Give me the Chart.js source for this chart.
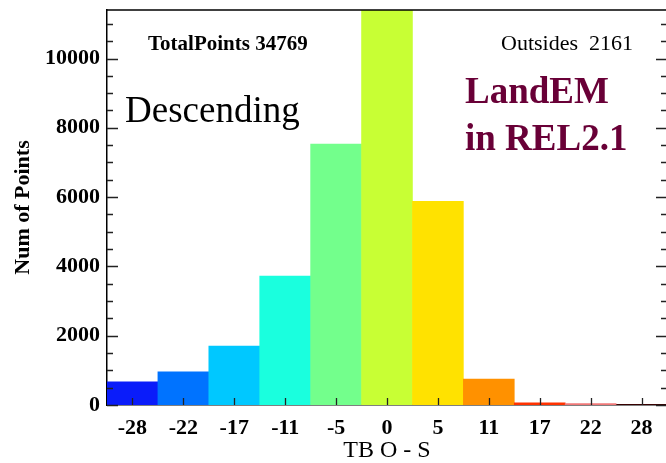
<!DOCTYPE html>
<html>
<head>
<meta charset="utf-8">
<script src="https://cdn.jsdelivr.net/npm/chart.js@4"></script>
<style>
  html, body { margin: 0; padding: 0; background: #fff; overflow: hidden; }
  canvas { display: block; }
</style>
</head>
<body>
<canvas id="myChart" width="668" height="463"></canvas>
<script>
// histogram bins of TB O - S
let bins = ["-28", "-22", "-17", "-11", "-5", "0", "5", "11", "17", "22", "28"];
let counts = [670, 955, 1700, 3720, 7530, 11400, 5880, 750, 60, 40, 0];
let barColors = [
  "rgb(10,28,250)", "rgb(0,115,255)", "rgb(0,200,255)", "rgb(26,255,222)",
  "rgb(115,255,140)", "rgb(200,255,52)", "rgb(255,226,0)", "rgb(255,145,0)",
  "rgb(255,50,0)", "rgb(240,120,120)", "rgb(220,0,0)"
];
let yTicks = [0, 2000, 4000, 6000, 8000, 10000];
let totalPoints = 34769;
let outsides = 2161;

let serif = "'Liberation Serif', 'DejaVu Serif', serif";
let yMax = Math.max(...counts);

// inward tick marks, top frame and the text annotations
let frame = {
  id: "frame",
  afterDatasetsDraw(chart) {
    let c = chart.ctx;
    let a = chart.chartArea;
    let x = chart.scales.x, y = chart.scales.y;
    c.save();
    c.strokeStyle = "#222";
    c.lineWidth = 1.3;
    c.beginPath();
    for (let v = 0; v <= yMax; v += 500) {
      let py = Math.round(y.getPixelForValue(v)) + 0.5;
      let len = v % 2000 === 0 ? 11 : 6;
      c.moveTo(a.left, py); c.lineTo(a.left + len, py);
      c.moveTo(a.right, py); c.lineTo(a.right - len, py);
    }
    bins.forEach((b, i) => {
      let px = Math.round(x.getPixelForValue(i)) + 0.5;
      c.moveTo(px, a.bottom); c.lineTo(px, a.bottom - 7);
    });
    c.stroke();
    c.strokeStyle = "#000";
    c.lineWidth = 1.5;
    c.beginPath();
    c.moveTo(a.left, a.top); c.lineTo(a.right, a.top);
    c.stroke();

    c.fillStyle = "#000";
    c.textBaseline = "alphabetic";
    c.font = "bold 21px " + serif;
    c.fillText("TotalPoints " + totalPoints, 148, 50);
    c.font = "22px " + serif;
    c.fillText("Outsides  " + outsides, 501, 50);
    c.font = "37px " + serif;
    c.fillText("Descending", 125, 122);
    c.fillStyle = "rgb(105,0,55)";
    c.font = "bold 37px " + serif;
    c.fillText("LandEM", 465, 103);
    c.fillText("in REL2.1", 465, 150);
    c.restore();
  }
};

let ctx = document.getElementById("myChart");

let graphData = {
  type: "bar",
  data: {
    labels: bins,
    datasets: [
      {
        data: counts,
        backgroundColor: barColors,
        borderWidth: 0,
        barPercentage: 1,
        categoryPercentage: 1,
      },
    ],
  },
  options: {
    responsive: false,
    animation: false,
    devicePixelRatio: 1,
    layout: { padding: { top: 10, right: 1, left: 0, bottom: 0 } },
    plugins: { legend: { display: false }, tooltip: { enabled: false } },
    scales: {
      x: {
        grid: { display: false, drawTicks: false },
        border: { display: true, color: "#000", width: 1.5 },
        ticks: {
          color: "#000",
          padding: 10,
          maxRotation: 0,
          font: { family: serif, size: 22, weight: "bold" },
        },
        title: {
          display: true,
          text: "TB O - S",
          color: "#000",
          padding: { top: 0, bottom: 0 },
          font: { family: serif, size: 24, lineHeight: 1 },
        },
        afterFit(scale) {
          scale.height = 58;
          scale.paddingLeft = 0;
          scale.paddingRight = 0;
        },
      },
      y: {
        min: 0,
        max: yMax,
        grid: { display: false, drawTicks: false },
        border: { display: true, color: "#000", width: 1.5 },
        afterBuildTicks(scale) {
          scale.ticks = yTicks.map((v) => ({ value: v }));
        },
        ticks: {
          color: "#000",
          padding: 7,
          font: { family: serif, size: 22, weight: "bold" },
          callback: (v) => String(v),
        },
        title: {
          display: true,
          text: "Num of Points",
          color: "#000",
          padding: { top: 10, bottom: 0 },
          font: { family: serif, size: 22, weight: "bold" },
        },
        afterFit(scale) {
          scale.width = 107;
          scale.paddingTop = 0;
          scale.paddingBottom = 0;
        },
      },
    },
  },
  plugins: [frame],
};

let myChart = new Chart(ctx, graphData);
</script>
</body>
</html>
